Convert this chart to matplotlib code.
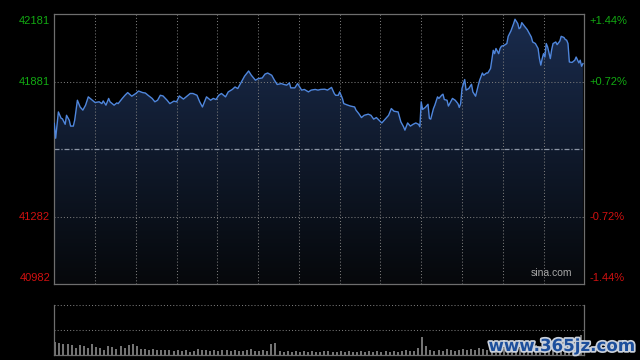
import numpy as np
import matplotlib
matplotlib.use("Agg")
import matplotlib.pyplot as plt
import matplotlib.patheffects as pe
from matplotlib.colors import LinearSegmentedColormap

# intraday index, minutes after the open
minutes = [0, 1, 3, 5, 6, 8, 9, 11, 12, 14, 15, 17, 19, 21, 23, 25, 28, 30, 33, 35,
           36, 38, 40, 41, 44, 46, 47, 50, 52, 54, 57, 60, 62, 65, 67, 69, 72, 74, 76, 78,
           80, 83, 85, 88, 90, 92, 95, 97, 100, 102, 105, 107, 109, 110, 112, 115, 117, 119, 121, 123,
           126, 128, 131, 133, 135, 137, 140, 143, 145, 148, 150, 153, 155, 157, 160, 162, 164, 167, 169, 171,
           173, 174, 177, 179, 182, 184, 187, 189, 192, 194, 196, 199, 201, 204, 206, 207, 209, 210, 212, 213,
           216, 218, 221, 222, 224, 226, 228, 231, 233, 235, 237, 239, 241, 244, 246, 248, 250, 253, 255, 257,
           258, 260, 262, 264, 266, 268, 269, 270, 271, 273, 275, 276, 277, 279, 280, 282, 283, 285, 286, 287,
           289, 290, 293, 295, 297, 298, 299, 300, 302, 303, 305, 307, 308, 310, 312, 313, 315, 316, 318, 319,
           321, 323, 324, 325, 327, 328, 329, 331, 333, 334, 336, 338, 339, 341, 342, 343, 344, 346, 348, 349,
           351, 352, 354, 356, 357, 358, 359, 360, 361, 362, 363, 365, 366, 367, 369, 370, 372, 373, 375, 376,
           377, 378, 379, 381, 383, 384, 386, 387, 388, 389]
prices = [41696, 41630, 41747, 41719, 41716, 41692, 41732, 41710, 41684, 41684, 41710, 41799, 41769, 41755, 41777, 41814, 41799, 41789, 41792, 41784,
          41796, 41777, 41807, 41792, 41777, 41787, 41784, 41807, 41821, 41833, 41817, 41829, 41840, 41833, 41831, 41821, 41807, 41792, 41799, 41821,
          41818, 41799, 41784, 41795, 41792, 41818, 41804, 41814, 41829, 41829, 41821, 41792, 41769, 41784, 41814, 41799, 41807, 41802, 41821, 41829,
          41814, 41836, 41847, 41858, 41851, 41873, 41906, 41929, 41910, 41888, 41895, 41898, 41915, 41920, 41910, 41888, 41869, 41873, 41869, 41866,
          41876, 41854, 41854, 41873, 41844, 41847, 41836, 41844, 41847, 41844, 41847, 41848, 41844, 41856, 41829, 41821, 41821, 41836, 41807, 41784,
          41777, 41773, 41769, 41755, 41740, 41722, 41732, 41737, 41732, 41715, 41722, 41710, 41698, 41718, 41732, 41762, 41750, 41747, 41703, 41681,
          41666, 41698, 41684, 41692, 41698, 41692, 41681, 41792, 41758, 41767, 41781, 41718, 41715, 41762, 41777, 41814, 41807, 41821, 41826, 41802,
          41799, 41773, 41807, 41799, 41784, 41767, 41784, 41851, 41891, 41844, 41851, 41870, 41836, 41817, 41866, 41888, 41920, 41910, 41920, 41920,
          41940, 42021, 42006, 42029, 42006, 42029, 42039, 42043, 42051, 42083, 42107, 42140, 42159, 42140, 42117, 42122, 42144, 42128, 42113, 42102,
          42080, 42058, 42051, 42029, 41984, 41955, 41984, 42006, 41991, 42051, 42036, 41984, 42024, 42051, 42058, 42046, 42062, 42083, 42078, 42069,
          42066, 42051, 41969, 41967, 41977, 41991, 41965, 41977, 41950, 41962]

prev_close = 41581.5
left_labels = ["42181", "41881", "41282", "40982"]
left_values = [42181, 41881, 41282, 40982]
right_labels = ["+1.44%", "+0.72%", "-0.72%", "-1.44%"]

vol_minutes = np.arange(0, 390, 3)
volumes = [26, 24, 22, 22, 20, 14, 20, 18, 14, 22, 16,
           14, 10, 18, 16, 12, 18, 14, 20, 22, 18,
           12, 12, 10, 12, 10, 10, 10, 10, 8, 10,
           8, 10, 6, 8, 12, 10, 10, 8, 10, 8,
           10, 10, 8, 10, 8, 8, 10, 12, 8, 8,
           10, 8, 22, 24, 8, 6, 8, 6, 8, 6,
           8, 6, 8, 6, 6, 8, 8, 6, 6, 8,
           6, 8, 6, 6, 8, 6, 8, 6, 8, 6,
           8, 6, 8, 6, 8, 10, 8, 8, 14, 36, 18,
           10, 8, 10, 8, 12, 10, 8, 10, 12,
           10, 12, 10, 14, 12, 10, 14, 12, 16, 14,
           18, 16, 20, 14, 18, 22, 16, 20, 18, 24,
           20, 18, 22, 20, 24, 18, 22, 26, 40]

fig = plt.figure(figsize=(6.4, 3.6), dpi=100, facecolor="black")
ax = fig.add_axes([54.3 / 640, 1 - 284 / 360, 530 / 640, 269.7 / 360])
axv = fig.add_axes([54.3 / 640, 1 - 354.7 / 360, 530 / 640, 50 / 360])

grid_kw = dict(color="#7a7a7a", lw=0.75, ls=(0, (1, 2)))

# price panel
ax.set_facecolor("black")
ax.set_xlim(0, 390)
ax.set_ylim(40982, 42181)

cmap = LinearSegmentedColormap.from_list("fill", ["#06080b", "#1a2c4e"])
grad = np.linspace(1, 0, 256).reshape(-1, 1)
im = ax.imshow(grad, extent=[0, 390, 40982, 42181], aspect="auto", cmap=cmap,
               origin="upper", zorder=1)
poly = ax.fill_between(minutes, prices, 40982, color="none", lw=0)
im.set_clip_path(poly.get_paths()[0], transform=ax.transData)

for m in range(30, 390, 30):
    ax.axvline(m, zorder=2, **grid_kw)
for v in [41881, 41282]:
    ax.axhline(v, zorder=2, **grid_kw)
ax.axhline(prev_close, color="#8d96a6", lw=0.9, ls=(0, (4, 1.5, 1, 1.5)), zorder=2)

ax.plot(minutes, prices, color="#4f86dc", lw=1.0, zorder=3)

ax.set_xticks([])
ax.set_yticks([])
for s in ax.spines.values():
    s.set_color("#6e6e6e")
    s.set_linewidth(0.9)

# top and bottom labels sit inside the frame
shifts = [-4.5, 0, 0, 4.5]
for lab, val, rlab, dy in zip(left_labels, left_values, right_labels, shifts):
    col = "#12aa12" if val > prev_close else "#d01010"
    ax.annotate(lab, (0, val), xycoords=("axes fraction", "data"),
                xytext=(-3, dy), textcoords="offset points",
                ha="right", va="center", color=col, fontsize=8,
                family="Liberation Sans")
    ax.annotate(rlab, (1, val), xycoords=("axes fraction", "data"),
                xytext=(4, dy), textcoords="offset points",
                ha="left", va="center", color=col, fontsize=8,
                family="Liberation Sans")

ax.text(0.978, 0.022, "sina.com", transform=ax.transAxes, ha="right", va="bottom",
        color="#a8a8a8", fontsize=7.5, family="Liberation Sans")

# volume panel
axv.set_facecolor("black")
axv.set_xlim(0, 390)
axv.set_ylim(0, 100)
axv.bar(vol_minutes, volumes, width=1.5, color="#737373", align="edge")
axv.axhline(100, **grid_kw)
axv.axhline(50, **grid_kw)
axv.set_xticks([])
axv.set_yticks([])
axv.spines["top"].set_visible(False)
for k in ["left", "right", "bottom"]:
    axv.spines[k].set_color("#6e6e6e")
    axv.spines[k].set_linewidth(0.9)

fig.text(635 / 640, 1 - 346 / 360, "www.365jz.com", ha="right", va="center",
         color="#1d4f9c", fontsize=12, fontweight="bold", family="DejaVu Sans",
         path_effects=[pe.withStroke(linewidth=2.5, foreground="#c9d0da")])

fig.savefig("out.png", dpi=100, facecolor="black")
